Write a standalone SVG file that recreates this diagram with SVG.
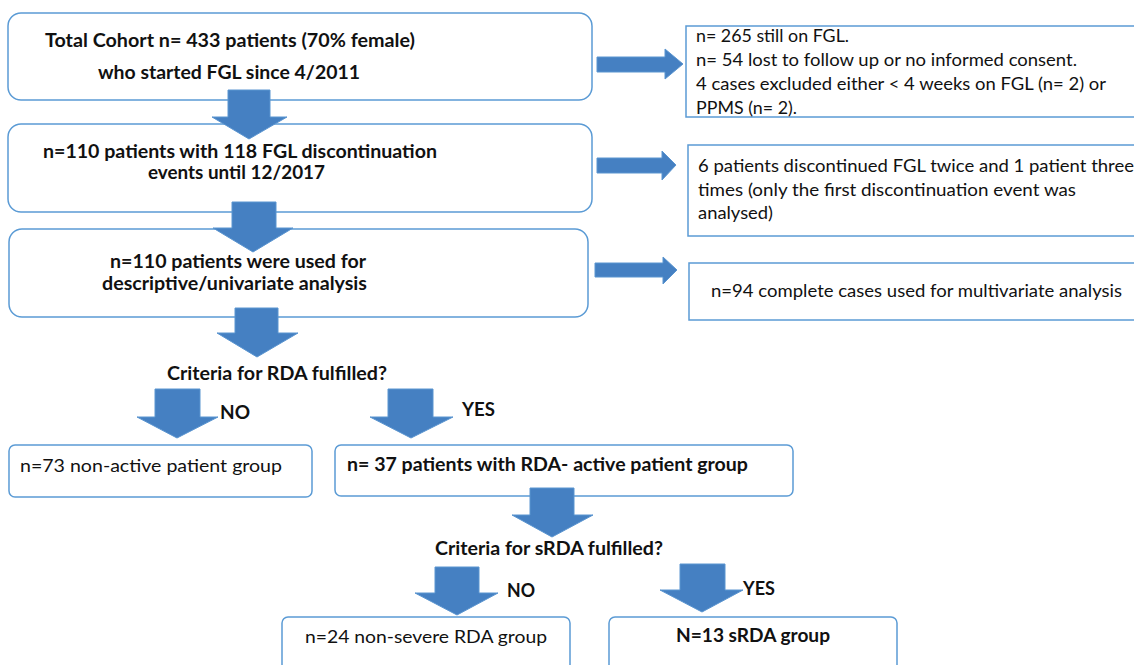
<svg xmlns="http://www.w3.org/2000/svg" width="1134" height="665" viewBox="0 0 1134 665">
<style>
.box{fill:#fff;stroke:#5b9bd5;stroke-width:1.5}
.arr{fill:#4580c2;stroke:#5b95d0;stroke-width:1}
.b{font-family:Lato,"Open Sans","Liberation Sans",sans-serif;font-weight:bold;font-size:18.5px;fill:#111}
.n{font-family:Lato,"Open Sans","Liberation Sans",sans-serif;font-size:17.5px;fill:#111}
</style>
<rect width="1134" height="665" fill="#fff"/>
<g id="n1"><rect class="box" x="8" y="13" width="584" height="87" rx="13"/>
<text class="b" x="45" y="47" textLength="370" lengthAdjust="spacingAndGlyphs">Total Cohort n= 433 patients (70% female)</text>
<text class="b" x="98" y="79" textLength="262" lengthAdjust="spacingAndGlyphs">who started FGL since 4/2011</text></g>
<g id="n2"><rect class="box" x="8" y="124" width="584" height="88" rx="13"/>
<text class="b" x="43" y="158" textLength="394" lengthAdjust="spacingAndGlyphs">n=110 patients with 118 FGL discontinuation</text>
<text class="b" x="148" y="179" textLength="177" lengthAdjust="spacingAndGlyphs">events until 12/2017</text></g>
<g id="n3"><rect class="box" x="9" y="229" width="579" height="88" rx="13"/>
<text class="b" x="110" y="268" textLength="256" lengthAdjust="spacingAndGlyphs">n=110 patients were used for</text>
<text class="b" x="102" y="290" textLength="265" lengthAdjust="spacingAndGlyphs">descriptive/univariate analysis</text></g>
<g id="r1"><rect class="box" x="686" y="26" width="460" height="91"/>
<text class="n" x="696" y="42" textLength="153" lengthAdjust="spacingAndGlyphs">n= 265 still on FGL.</text>
<text class="n" x="696" y="66" textLength="381" lengthAdjust="spacingAndGlyphs">n= 54 lost to follow up or no informed consent.</text>
<text class="n" x="696" y="90" textLength="410" lengthAdjust="spacingAndGlyphs">4 cases excluded either &lt; 4 weeks on FGL (n= 2) or</text>
<text class="n" x="696" y="114" textLength="101" lengthAdjust="spacingAndGlyphs">PPMS (n= 2).</text></g>
<g id="r2"><rect class="box" x="688" y="145" width="460" height="91"/>
<text class="n" x="698" y="172" textLength="436" lengthAdjust="spacingAndGlyphs">6 patients discontinued FGL twice and 1 patient three</text>
<text class="n" x="698" y="196" textLength="378" lengthAdjust="spacingAndGlyphs">times (only the first discontinuation event was</text>
<text class="n" x="698" y="219" textLength="75" lengthAdjust="spacingAndGlyphs">analysed)</text></g>
<g id="r3"><rect class="box" x="689" y="263" width="460" height="57"/>
<text class="n" x="711" y="297" textLength="411" lengthAdjust="spacingAndGlyphs">n=94 complete cases used for multivariate analysis</text></g>
<g id="q1"><text class="b" x="167" y="380" textLength="220" lengthAdjust="spacingAndGlyphs">Criteria for RDA fulfilled?</text></g>
<g id="no1"><rect class="box" x="9" y="445" width="303" height="52" rx="6"/>
<text class="n" x="20" y="472" textLength="262" lengthAdjust="spacingAndGlyphs">n=73 non-active patient group</text></g>
<g id="yes1"><rect class="box" x="335" y="445" width="458" height="51" rx="6"/>
<text class="b" x="347" y="471" textLength="401" lengthAdjust="spacingAndGlyphs">n= 37 patients with RDA- active patient group</text></g>
<g id="q2"><text class="b" x="435" y="555" textLength="228" lengthAdjust="spacingAndGlyphs">Criteria for sRDA fulfilled?</text></g>
<g id="no2"><rect class="box" x="282" y="617" width="288" height="60" rx="6"/>
<text class="n" x="305" y="643" textLength="242" lengthAdjust="spacingAndGlyphs">n=24 non-severe RDA group</text></g>
<g id="yes2"><rect class="box" x="609" y="617" width="288" height="60" rx="6"/>
<text class="b" x="676" y="642" textLength="154" lengthAdjust="spacingAndGlyphs">N=13 sRDA group</text></g>
<g id="connectors">
<polygon class="arr" points="228,90 270,90 270,117 287,117 249,139 212,117 228,117"/>
<polygon class="arr" points="232,202 276,202 276,228 293,228 253,252 213,228 232,228"/>
<polygon class="arr" points="235,308 278,308 278,333 298,333 257,357 217,333 235,333"/>
<polygon class="arr" points="155,389 200,389 200,417 218,417 177,438 137,417 155,417"/>
<polygon class="arr" points="388,389 433,389 433,417 453,417 411,438 370,417 388,417"/>
<polygon class="arr" points="530,488 574,488 574,515 593,515 552,537 512,515 530,515"/>
<polygon class="arr" points="435,567 479,567 479,593 498,593 457,615 415,593 435,593"/>
<polygon class="arr" points="680,564 725,564 725,590 743,590 702,612 660,590 680,590"/>
<polygon class="arr" points="597,57 665,57 665,49 683,64 665,79 665,72 597,72"/>
<polygon class="arr" points="597,158 662,158 662,151 676,165 662,180 662,173 597,173"/>
<polygon class="arr" points="595,263 663,263 663,257 677,270 663,284 663,277 595,277"/>
<text class="b" x="220" y="419" textLength="30" lengthAdjust="spacingAndGlyphs">NO</text>
<text class="b" x="462" y="416" textLength="33" lengthAdjust="spacingAndGlyphs">YES</text>
<text class="b" x="507" y="597" textLength="28" lengthAdjust="spacingAndGlyphs">NO</text>
<text class="b" x="743" y="595" textLength="32" lengthAdjust="spacingAndGlyphs">YES</text>
</g>
</svg>
